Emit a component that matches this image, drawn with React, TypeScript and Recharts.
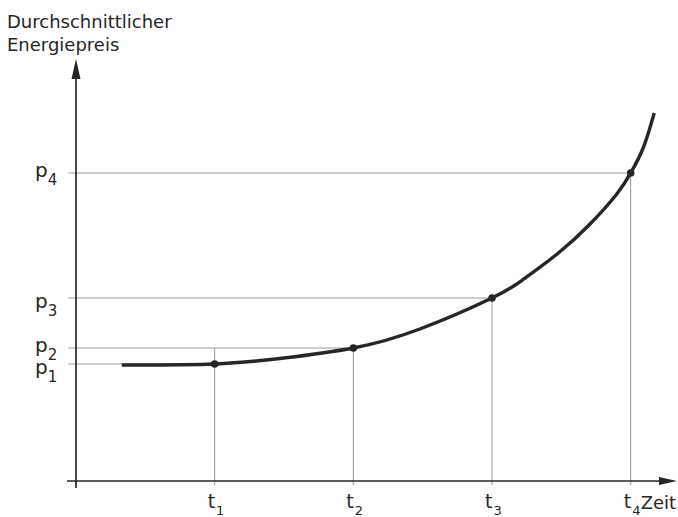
import React from 'react';
import { ComposedChart, Line, Scatter, XAxis, YAxis, ReferenceLine } from 'recharts';

// ---- data ----
const curveTime = [0.33, 1, 1.5, 2, 2.48, 3, 3.22, 3.47, 3.7, 3.9, 4, 4.09, 4.17];
const curvePrice = [1.16, 1.17, 1.23, 1.33, 1.52, 1.83, 2.01, 2.27, 2.56, 2.87, 3.08, 3.33, 3.68];
const markTimes = [1, 2, 3, 4];
const markPrices = [1.17, 1.33, 1.83, 3.08];
const markLabels = ['1', '2', '3', '4'];
const titleLines = ['Durchschnittlicher', 'Energiepreis'];
const xAxisName = 'Zeit';

// axis extents (data units)
const X_MAX = 4.334;
const Y_MAX = 4.22;
const X_AXIS_START = -0.065;
const Y_AXIS_START = -0.07;
const GRID_START = -0.055;
const TICK_BELOW = -0.04;

const curveData = curveTime.map((t, i) => ({ t, v: curvePrice[i] }));
const markData = markTimes.map((t, i) => ({ t, v: markPrices[i] }));
const xArrowData = [{ t: X_MAX, v: 0 }];
const yArrowData = [{ t: 0, v: Y_MAX }];

const INK = '#262626';
const GRID = '#9a9a9a';
const FONT = '"DejaVu Sans", sans-serif';
const yLabelNudge = [10, 4, 10, 4];

const XTick = (props: any) => {
  const { x, y, payload } = props;
  const i = markTimes.indexOf(payload.value);
  return (
    <g>
      <text x={x - 7} y={y + 27} fontSize={19} fontFamily={FONT} fill={INK}>
        t
        <tspan dx={1} dy={7} fontSize={13}>{markLabels[i]}</tspan>
      </text>
      {i === markTimes.length - 1 && (
        <text x={x + 10} y={y + 28} fontSize={18} fontFamily={FONT} fill={INK}>
          {xAxisName}
        </text>
      )}
    </g>
  );
};

const YTick = (props: any) => {
  const { x, y, payload } = props;
  const i = markPrices.indexOf(payload.value);
  return (
    <text x={x - 41} y={y + yLabelNudge[i]} fontSize={20} fontFamily={FONT} fill={INK}>
      p
      <tspan dx={0} dy={8} fontSize={15}>{markLabels[i]}</tspan>
    </text>
  );
};

const XArrow = (p: any) => {
  const { cx, cy } = p;
  return <polygon points={`${cx},${cy} ${cx - 18},${cy - 4} ${cx - 18},${cy + 4}`} fill={INK} />;
};
const YArrow = (p: any) => {
  const { cx, cy } = p;
  return <polygon points={`${cx},${cy} ${cx - 4.5},${cy + 20} ${cx + 4.5},${cy + 20}`} fill={INK} />;
};
const MarkDot = (p: any) => {
  const { cx, cy } = p;
  return <circle cx={cx} cy={cy} r={3.8} fill={INK} />;
};

export default function App() {
  return (
    <div style={{ position: 'absolute', left: 0, top: 0, width: 678, height: 517, background: '#fff' }}>
      <ComposedChart width={678} height={517} margin={{ top: 59, right: 1, bottom: 0, left: 0 }}>
        <XAxis
          dataKey="t"
          type="number"
          domain={[0, X_MAX]}
          ticks={markTimes}
          interval={0}
          tick={<XTick />}
          axisLine={false}
          tickLine={false}
          tickSize={0}
          tickMargin={0}
          height={36}
        />
        <YAxis
          dataKey="v"
          type="number"
          domain={[0, Y_MAX]}
          ticks={markPrices}
          interval={0}
          tick={<YTick />}
          axisLine={false}
          tickLine={false}
          tickSize={0}
          tickMargin={0}
          width={76}
        />
        {markTimes.map((t, i) => (
          <ReferenceLine
            key={'h' + i}
            ifOverflow="visible"
            stroke={GRID}
            strokeWidth={1}
            segment={[{ x: GRID_START, y: markPrices[i] }, { x: t, y: markPrices[i] }]}
          />
        ))}
        {markTimes.map((t, i) => (
          <ReferenceLine
            key={'v' + i}
            ifOverflow="visible"
            stroke={GRID}
            strokeWidth={1}
            segment={[{ x: t, y: TICK_BELOW }, { x: t, y: i === 0 ? markPrices[1] : markPrices[i] }]}
          />
        ))}
        <ReferenceLine
          ifOverflow="visible"
          stroke={INK}
          strokeWidth={1.7}
          segment={[{ x: X_AXIS_START, y: 0 }, { x: X_MAX - 0.1, y: 0 }]}
        />
        <ReferenceLine
          ifOverflow="visible"
          stroke={INK}
          strokeWidth={1.7}
          segment={[{ x: 0, y: Y_AXIS_START }, { x: 0, y: Y_MAX - 0.15 }]}
        />
        <Line
          data={curveData}
          dataKey="v"
          type="natural"
          stroke={INK}
          strokeWidth={3.4}
          dot={false}
          activeDot={false}
          isAnimationActive={false}
        />
        <Scatter data={markData} dataKey="v" shape={<MarkDot />} isAnimationActive={false} />
        <Scatter data={xArrowData} dataKey="v" shape={<XArrow />} isAnimationActive={false} />
        <Scatter data={yArrowData} dataKey="v" shape={<YArrow />} isAnimationActive={false} />
      </ComposedChart>
      <svg
        width={678}
        height={60}
        style={{ position: 'absolute', left: 0, top: 0, pointerEvents: 'none' }}
      >
        {titleLines.map((s, i) => (
          <text key={i} x={7} y={28 + i * 23} fontSize={18} fontFamily={FONT} fill={INK}>
            {s}
          </text>
        ))}
      </svg>
    </div>
  );
}
